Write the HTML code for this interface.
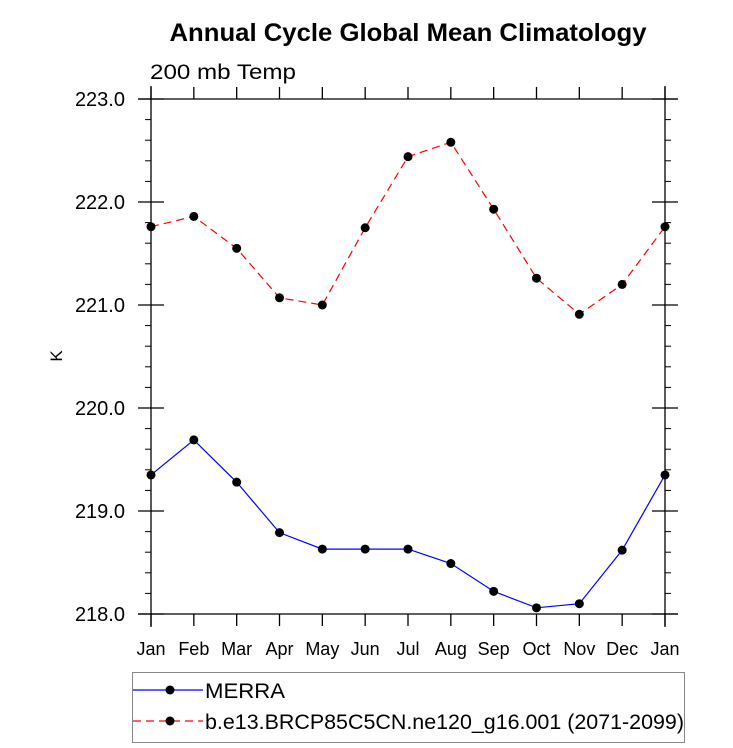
<!DOCTYPE html>
<html><head><meta charset="utf-8"><style>body{margin:0;background:#fff}svg{display:block;font-family:"Liberation Sans",sans-serif}</style></head>
<body>
<svg id="c" width="733" height="748">
<text x="408" y="41" text-anchor="middle" font-size="25" font-weight="bold" textLength="477" lengthAdjust="spacingAndGlyphs">Annual Cycle Global Mean Climatology</text>
<text x="150" y="79" font-size="21" textLength="146" lengthAdjust="spacingAndGlyphs">200 mb Temp</text>
<text x="62" y="356" font-size="17" text-anchor="middle" transform="rotate(-90 62 356)">K</text>
<g id="axes"></g><g id="series"></g>
<g>
<rect x="132.5" y="672.5" width="552" height="70" fill="none" stroke="#888"/>
<g><line x1="133" y1="690" x2="203" y2="690" stroke="#0000ff" stroke-width="1.2"/><circle cx="170" cy="690" r="4.5"/><text x="205" y="698" font-size="21" textLength="80" lengthAdjust="spacingAndGlyphs">MERRA</text></g>
<g><line x1="133" y1="721" x2="203" y2="721" stroke="#ff0000" stroke-width="1.2" stroke-dasharray="8,5"/><circle cx="170" cy="721" r="4.5"/><text x="205" y="729" font-size="21" textLength="479" lengthAdjust="spacingAndGlyphs">b.e13.BRCP85C5CN.ne120_g16.001 (2071-2099)</text></g>
</g>
</svg>
<script>
const months=["Jan","Feb","Mar","Apr","May","Jun","Jul","Aug","Sep","Oct","Nov","Dec","Jan"];
const merra=[219.35,219.69,219.28,218.79,218.63,218.63,218.63,218.49,218.22,218.06,218.10,218.62,219.35];
const model=[221.76,221.86,221.55,221.07,221.00,221.75,222.44,222.58,221.93,221.26,220.91,221.20,221.76];
const yTicks=[218,219,220,221,222,223];
const yTickLabels=["218.0","219.0","220.0","221.0","222.0","223.0"];
const L=151,R=665,T=99,B=614,ymin=218,ymax=223;
const X=i=>L+(R-L)*i/(months.length-1);
const Y=v=>B-(B-T)*(v-ymin)/(ymax-ymin);
const NS="http://www.w3.org/2000/svg";
function mk(t,a,p){const e=document.createElementNS(NS,t);for(const k in a)e.setAttribute(k,a[k]);p.appendChild(e);return e;}
const ax=document.getElementById('axes');
const st={stroke:"#000","stroke-width":1.3};
let e;
e=mk('line',Object.assign({x1:L-13,y1:B,x2:R+13,y2:B},st),ax);
e=mk('line',Object.assign({x1:L-13,y1:T,x2:R+13,y2:T},st),ax);
e=mk('line',Object.assign({x1:L,y1:T-13,x2:L,y2:B+13},st),ax);
e=mk('line',Object.assign({x1:R,y1:T-13,x2:R,y2:B+13},st),ax);
months.forEach((m,i)=>{const x=X(i);
mk('line',Object.assign({x1:x,y1:B,x2:x,y2:B+12},st),ax);
mk('line',Object.assign({x1:x,y1:T,x2:x,y2:T-12},st),ax);
e=mk('text',{x:x,y:B+41,'font-size':18,'text-anchor':'middle'},ax);e.textContent=m;
});
yTicks.forEach((v,i)=>{const y=Y(v);
mk('line',Object.assign({x1:L-13,y1:y,x2:L+13,y2:y},st),ax);
mk('line',Object.assign({x1:R-13,y1:y,x2:R+13,y2:y},st),ax);
e=mk('text',{x:L-26,y:y+7,'font-size':20,'text-anchor':'end'},ax);e.textContent=yTickLabels[i];

if(i<yTicks.length-1)for(let k=1;k<5;k++){const yy=Y(v+k*0.2);
mk('line',{x1:L-6,y1:yy,x2:L,y2:yy,stroke:"#000","stroke-width":1},ax);
mk('line',{x1:R,y1:yy,x2:R+6,y2:yy,stroke:"#000","stroke-width":1},ax);}});
const sg=document.getElementById('series');
function series(vals,color,dash,name){
const g=mk('g',{},sg);
const a={points:vals.map((v,i)=>X(i)+','+Y(v)).join(' '),fill:'none',stroke:color,'stroke-width':1.2};
if(dash)a['stroke-dasharray']=dash;
mk('polyline',a,g);
vals.forEach((v,i)=>{const c=mk('circle',{cx:X(i),cy:Y(v),r:4.5,fill:'#000'},g);
});}
series(model,'#ff0000','8,5','model-series');
series(merra,'#0000ff',null,'merra-series');
</script>
</body></html>
